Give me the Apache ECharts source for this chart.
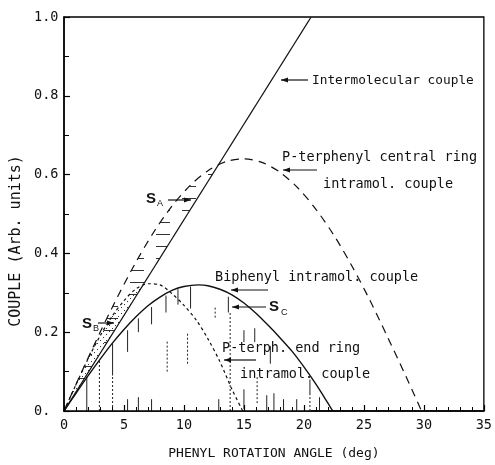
<!DOCTYPE html>
<html><head><meta charset="utf-8">
<style>html,body{margin:0;padding:0;background:#fff}#c{width:495px;height:465px}</style>
<script src="https://cdn.jsdelivr.net/npm/echarts@6/dist/echarts.min.js"></script>
</head><body><div id="c"></div>
<script>
// ---- data ----
const xTickValues = [0, 5, 10, 15, 20, 25, 30, 35];
const yTickLabels = ['0.', '0.2', '0.4', '0.6', '0.8', '1.0'];
const intermolecular = [[0, 0], [20.6, 1.0]];
const centralRing = [[0,0],[1.5,0.101],[3,0.199],[4.5,0.292],[6,0.378],[7.5,0.455],[9,0.52],[10.5,0.572],[12,0.61],[13.5,0.633],[15,0.64],[16.5,0.631],[18,0.606],[19.5,0.566],[21,0.512],[22.5,0.446],[24,0.368],[25.5,0.281],[27,0.186],[28.5,0.088],[29.8,0]];
const biphenyl = [[0,0],[1,0.045],[2,0.089],[3,0.131],[4,0.171],[5,0.207],[6,0.239],[7,0.267],[8,0.289],[9,0.306],[10,0.316],[11.2,0.32],[12,0.318],[13,0.309],[14,0.295],[15,0.274],[16,0.248],[17,0.218],[18,0.186],[19,0.152],[20,0.112],[21,0.068],[22,0.02],[22.4,0]];
const endRing = [[0,0],[1,0.067],[2,0.132],[3,0.19],[4,0.24],[5,0.28],[6,0.31],[7,0.323],[8,0.32],[9,0.298],[10,0.268],[11,0.232],[12,0.183],[13,0.125],[14,0.055],[14.9,0]];
// vertical hatch strokes: [x, yFrom, yTo]
const hatchSolid = [[1.9,0,0.087],[4.05,0.09,0.172],[5.3,0.15,0.205],[6.2,0.2,0.235],[7.3,0.22,0.264],[8.5,0.25,0.293],[9.5,0.27,0.309],[10.55,0.26,0.316],[13.7,0.25,0.29],[15.0,0.175,0.205],[15.9,0.175,0.21],[17.2,0.12,0.165],[15.0,0.005,0.055],[20.5,0.04,0.08],[5.3,0,0.03],[6.2,0,0.035],[7.3,0,0.03],[12.9,0,0.03],[16.9,0,0.04],[17.5,0,0.045],[18.3,0,0.03],[19.4,0,0.03],[21.3,0,0.035]];
const hatchDotted = [[2.95,0,0.13],[4.05,0,0.09],[12.6,0.237,0.268],[13.85,0,0.25],[8.6,0.1,0.18],[10.3,0.12,0.2],[20.5,0,0.04],[16.1,0.02,0.09]];

// ---- styling helpers ----
const FONT = 'DejaVu Sans Mono';
const INK = '#111';
function makePattern(w, h, draw) {
  const c = document.createElement('canvas'); c.width = w; c.height = h;
  const g = c.getContext('2d'); draw(g); return { image: c, repeat: 'repeat' };
}
const hPattern = makePattern(26, 12, g => { g.strokeStyle = '#333'; g.lineWidth = 1; g.beginPath(); g.moveTo(0, 6.5); g.lineTo(14, 6.5); g.stroke(); });
const dotPattern = makePattern(6, 6, g => { g.fillStyle = '#333'; g.fillRect(1, 1, 1, 1); g.fillRect(4, 4, 1, 1); });

function txt(t, x, y, size, extra) {
  return { type: 'text', x, y, z: 100, style: Object.assign({ text: t, fill: INK, fontSize: size, fontFamily: FONT, verticalAlign: 'middle', align: 'left' }, extra || {}) };
}
function arrow(x1, y1, x2, y2) {
  const L = Math.hypot(x2 - x1, y2 - y1), dx = (x2 - x1) / L, dy = (y2 - y1) / L, nx = -dy, ny = dx;
  return [
    { type: 'line', z: 100, shape: { x1, y1, x2, y2 }, style: { stroke: INK, lineWidth: 1.2 } },
    { type: 'polygon', z: 100, shape: { points: [[x2, y2], [x2 - 7 * dx + 2.5 * nx, y2 - 7 * dy + 2.5 * ny], [x2 - 7 * dx - 2.5 * nx, y2 - 7 * dy - 2.5 * ny]] }, style: { fill: INK } }
  ];
}
function hatchSeries(data, dash) {
  return {
    type: 'custom', z: 4, silent: true, data: data, encode: { x: 0, y: [1, 2] },
    renderItem: function (params, api) {
      const p0 = api.coord([api.value(0), api.value(1)]);
      const p1 = api.coord([api.value(0), api.value(2)]);
      return { type: 'line', shape: { x1: p0[0], y1: p0[1], x2: p1[0], y2: p1[1] }, style: { stroke: '#222', lineWidth: 1, lineDash: dash } };
    }
  };
}

const chart = echarts.init(document.getElementById('c'), null, { renderer: 'canvas' });
const graphics = [].concat(
  [txt('COUPLE (Arb. units)', 16, 241, 15, { align: 'center' })].map(g => Object.assign(g, { rotation: Math.PI / 2 })),
  [txt('Intermolecular couple', 312, 81, 12.8)], arrow(308, 80, 281, 80),
  [txt('P-terphenyl central ring', 282, 157, 13.5), txt('intramol. couple', 323, 184, 13.5)], arrow(317, 170, 283, 170),
  [txt('Biphenyl intramol. couple', 215, 277, 13.5)], arrow(268, 290, 231, 290),
  [txt('S', 269, 307, 15, { fontFamily: 'Liberation Sans', fontWeight: 'bold' }), txt('C', 281, 313, 9, { fontFamily: 'Liberation Sans' })], arrow(266, 307, 232, 307),
  [txt('P-terph. end ring', 222, 348, 13.5), txt('intramol. couple', 240, 374, 13.5)], arrow(256, 360, 224, 360),
  [txt('S', 146, 199, 15, { fontFamily: 'Liberation Sans', fontWeight: 'bold' }), txt('A', 157, 204, 9, { fontFamily: 'Liberation Sans' })], arrow(168, 200, 191, 200),
  [txt('S', 82, 324, 15, { fontFamily: 'Liberation Sans', fontWeight: 'bold' }), txt('B', 93, 329, 9, { fontFamily: 'Liberation Sans' })], arrow(98, 323, 114, 323)
);

chart.setOption({
  animation: false,
  backgroundColor: '#fff',
  grid: { left: 64, right: 8, top: 17, bottom: 53, show: true, borderColor: '#000', borderWidth: 1.3, backgroundColor: 'transparent' },
  xAxis: {
    type: 'value', min: xTickValues[0], max: xTickValues[xTickValues.length - 1], interval: 5, z: 10,
    axisLine: { show: true, onZero: false, lineStyle: { color: '#000', width: 1.5 } },
    axisTick: { show: true, inside: true, length: 6, lineStyle: { color: '#000', width: 1.2 } },
    minorTick: { show: true, splitNumber: 5, length: 4, lineStyle: { color: '#000', width: 1 } },
    splitLine: { show: false }, minorSplitLine: { show: false },
    axisLabel: { color: INK, fontFamily: FONT, fontSize: 13.5, margin: 7, showMinLabel: true, showMaxLabel: true },
    name: 'PHENYL ROTATION ANGLE (deg)', nameLocation: 'middle', nameGap: 36,
    nameTextStyle: { color: INK, fontFamily: FONT, fontSize: 13 }
  },
  yAxis: {
    type: 'value', min: 0, max: 1, interval: 0.2, z: 10,
    axisLine: { show: true, onZero: false, lineStyle: { color: '#000', width: 1.5 } },
    axisTick: { show: true, inside: true, length: 6, lineStyle: { color: '#000', width: 1.2 } },
    minorTick: { show: true, splitNumber: 2, length: 5, lineStyle: { color: '#000', width: 1 } },
    splitLine: { show: false }, minorSplitLine: { show: false },
    axisLabel: { color: INK, fontFamily: FONT, fontSize: 13.5, align: 'left', margin: 30, padding: [10, 0, 0, 0], showMinLabel: true, showMaxLabel: true,
      formatter: v => yTickLabels[Math.round(v / 0.2)] }
  },
  graphic: graphics,
  series: [
    { type: 'line', z: 1, silent: true, data: centralRing.filter(p => p[0] <= 13.5), showSymbol: false, smooth: 0.3, lineStyle: { opacity: 0 }, areaStyle: { color: hPattern, opacity: 1 } },
    { type: 'line', z: 2, silent: true, data: endRing.filter(p => p[0] <= 7), showSymbol: false, smooth: 0.3, lineStyle: { opacity: 0 }, areaStyle: { color: dotPattern, opacity: 1 } },
    { type: 'line', z: 3, silent: true, data: intermolecular, showSymbol: false, lineStyle: { opacity: 0 }, areaStyle: { color: '#fff', opacity: 1 } },
    hatchSeries(hatchSolid, null),
    hatchSeries(hatchDotted, [2, 2]),
    { name: 'Intermolecular couple', type: 'line', z: 5, data: intermolecular, showSymbol: false, lineStyle: { color: INK, width: 1.3 } },
    { name: 'P-terphenyl central ring intramol. couple', type: 'line', z: 5, data: centralRing, showSymbol: false, smooth: 0.3, lineStyle: { color: INK, width: 1.2, type: [8, 6] } },
    { name: 'Biphenyl intramol. couple', type: 'line', z: 5, data: biphenyl, showSymbol: false, smooth: 0.3, lineStyle: { color: INK, width: 1.4 } },
    { name: 'P-terph. end ring intramol. couple', type: 'line', z: 5, data: endRing, showSymbol: false, smooth: 0.3, lineStyle: { color: INK, width: 1.2, type: [3, 3] } }
  ]
});
</script></body></html>
